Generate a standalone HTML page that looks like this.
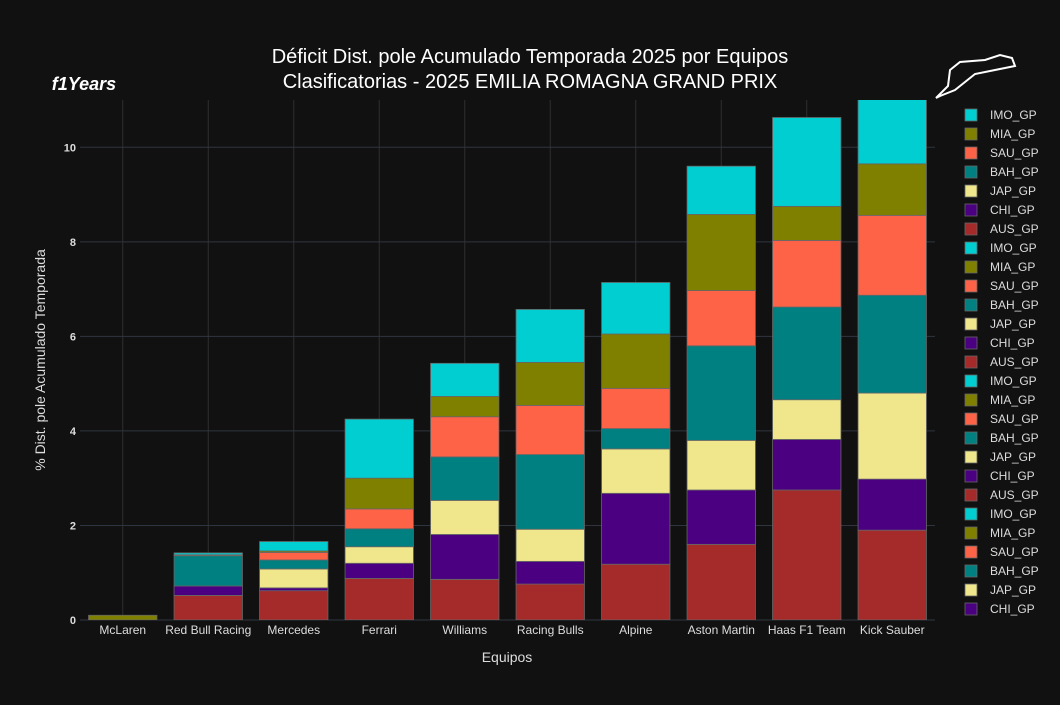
<!DOCTYPE html>
<html><head><meta charset="utf-8"><style>
body{margin:0;background:#111111;}
svg text{font-family:"Liberation Sans",Arial,sans-serif;}
</style></head><body>
<svg id="chart" width="1060" height="700" xmlns="http://www.w3.org/2000/svg">
<rect width="1060" height="700" fill="#111111"/>
<g id="grid"></g><g id="bars"></g><g id="axes"></g><g id="legend"></g>
<text x="530" y="63" text-anchor="middle" fill="#ffffff" font-size="20">Déficit Dist. pole Acumulado Temporada 2025 por Equipos</text>
<text x="530" y="88" text-anchor="middle" fill="#ffffff" font-size="20">Clasificatorias - 2025 EMILIA ROMAGNA GRAND PRIX</text>
<text x="507" y="662" text-anchor="middle" fill="#dddddd" font-size="14">Equipos</text>
<text transform="translate(45,360) rotate(-90)" text-anchor="middle" fill="#dddddd" font-size="14">% Dist. pole Acumulado Temporada</text>
<text x="84" y="90" text-anchor="middle" fill="#ffffff" font-size="18" font-style="italic" font-weight="bold">f1Years</text>
<path d="M936,98 L948,86 L950,70 L960,62 L985,60 L1000,55 L1012,58 L1015,66 L995,70 L975,74 L965,82 L955,90 L940,96 Z" fill="none" stroke="#ffffff" stroke-width="2"/>
</svg>
<script>
const categories=["McLaren","Red Bull Racing","Mercedes","Ferrari","Williams","Racing Bulls","Alpine","Aston Martin","Haas F1 Team","Kick Sauber"];
const seriesNames=["AUS_GP","CHI_GP","JAP_GP","BAH_GP","SAU_GP","MIA_GP","IMO_GP"];
const seriesColors=["#a52a2a","#4b0082","#f0e68c","#008080","#ff6347","#808000","#00ced1"];
const AUS=[0,0.52,0.62,0.88,0.86,0.76,1.18,1.6,2.75,1.9];
const CHI=[0,0.2,0.06,0.32,0.95,0.48,1.5,1.15,1.07,1.08];
const JAP=[0,0,0.4,0.35,0.72,0.68,0.94,1.05,0.84,1.82];
const BAH=[0,0.64,0.19,0.38,0.92,1.58,0.43,2.0,1.96,2.07];
const SAU=[0,0.02,0.16,0.42,0.85,1.04,0.85,1.17,1.41,1.69];
const MIA=[0.1,0,0.03,0.65,0.43,0.91,1.15,1.61,0.72,1.09];
const IMO=[0,0.04,0.2,1.25,0.7,1.12,1.09,1.02,1.88,1.9];
const yTicks=[0,2,4,6,8,10];
const legendOrder=["IMO_GP","MIA_GP","SAU_GP","BAH_GP","JAP_GP","CHI_GP","AUS_GP","IMO_GP","MIA_GP","SAU_GP","BAH_GP","JAP_GP","CHI_GP","AUS_GP","IMO_GP","MIA_GP","SAU_GP","BAH_GP","JAP_GP","CHI_GP","AUS_GP","IMO_GP","MIA_GP","SAU_GP","BAH_GP","JAP_GP","CHI_GP"];
const series=[AUS,CHI,JAP,BAH,SAU,MIA,IMO];
const NS="http://www.w3.org/2000/svg";
const L=80,R=935,T=100,B=620,yMax=11;
const band=(R-L)/categories.length;
const x=i=>L+band*(i+0.5);
const y=v=>B-(v/yMax)*(B-T);
function mk(tag,attrs,parent){const e=document.createElementNS(NS,tag);for(const k in attrs)e.setAttribute(k,attrs[k]);parent.appendChild(e);return e;}
const grid=document.getElementById('grid'),bars=document.getElementById('bars'),axes=document.getElementById('axes'),leg=document.getElementById('legend');
categories.forEach((c,i)=>{
  const g=mk('line',{x1:x(i),x2:x(i),y1:T,y2:B,stroke:'#2f2f2f','stroke-width':1},grid);
  
  
  const t=mk('text',{x:x(i),y:B+14,'text-anchor':'middle',fill:'#dddddd','font-size':12},axes);
  t.textContent=c;
  
  
});
yTicks.forEach(v=>{
  const g=mk('line',{x1:L,x2:R,y1:y(v),y2:y(v),stroke:'#2f3540','stroke-width':1},grid);
  
  
  const t=mk('text',{x:L-4,y:y(v)+4,'text-anchor':'end',fill:'#dddddd','font-size':11,'font-weight':'bold'},axes);
  t.textContent=v;
  
  
});
const clip=mk('clipPath',{id:'pc'},mk('defs',{},bars));mk('rect',{x:L,y:T,width:R-L,height:B-T},clip);
bars.setAttribute('clip-path','url(#pc)');
const bw=band*0.8;
categories.forEach((c,i)=>{
  let acc=0;
  series.forEach((s,k)=>{
    const v=s[i];if(v<=0)return;
    const r=mk('rect',{x:x(i)-bw/2,y:y(acc+v),width:bw,height:y(acc)-y(acc+v),fill:seriesColors[k],stroke:'#666666','stroke-width':0.8},bars);
    
    
    acc+=v;
  });
});
legendOrder.forEach((n,j)=>{
  const k=seriesNames.indexOf(n);const ly=115+j*19;
  const r=mk('rect',{x:965,y:ly-6,width:12,height:12,fill:seriesColors[k],stroke:'#666','stroke-width':0.8},leg);
  
  
  const t=mk('text',{x:990,y:ly+4,fill:'#dddddd','font-size':12},leg);
  t.textContent=n;
  
  
});
</script>
</body></html>
